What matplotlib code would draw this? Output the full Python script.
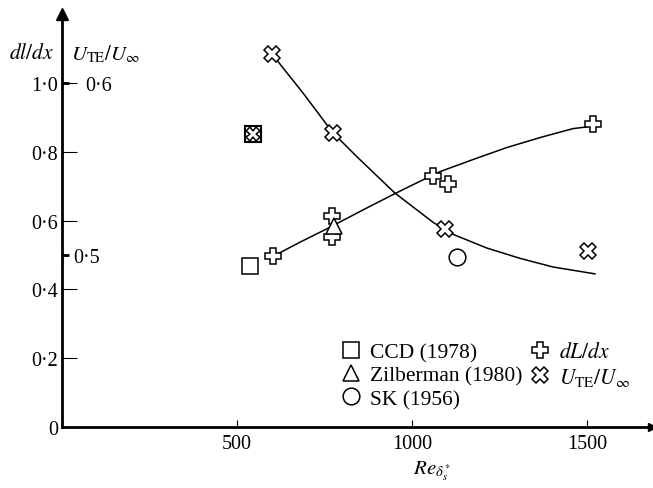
import numpy as np
import matplotlib
matplotlib.use('Agg')
import matplotlib.pyplot as plt
from matplotlib.ticker import FuncFormatter

plt.rcParams['font.family'] = ['Liberation Serif', 'DejaVu Serif']
plt.rcParams['mathtext.fontset'] = 'stix'

# dL/dx measurements (crosses of plus shape)
re_dl = [603, 771, 771, 1060, 1103, 1517]
dl_dx = [0.496, 0.612, 0.551, 0.728, 0.707, 0.881]

# U_TE/U_inf measurements (diagonal crosses)
re_ute = [600, 774, 1094, 1503]
u_te = [0.617, 0.571, 0.515, 0.502]

# other authors
re_ccd, dl_ccd = [537], [0.467]          # CCD (1978), dl/dx
re_ccd_u, u_ccd = [546], [0.570]         # CCD (1978), U_TE/U_inf
re_zil, dl_zil = [777], [0.583]          # Zilberman (1980)
re_sk, u_sk = [1129], [0.499]            # SK (1956)

# faired curves
re_dl_fit = [603, 680, 757, 870, 951, 1015, 1080, 1174, 1271, 1366, 1460, 1500]
dl_fit = [0.496, 0.537, 0.576, 0.636, 0.678, 0.710, 0.742, 0.777, 0.812,
          0.841, 0.867, 0.872]
re_u_fit = [603, 689, 774, 843, 951, 1060, 1117, 1214, 1309, 1403, 1523]
u_fit = [0.616, 0.594, 0.571, 0.557, 0.536, 0.519, 0.512, 0.504, 0.498, 0.493, 0.489]

x_ticks = [500, 1000, 1500]
dl_ticks = [0, 0.2, 0.4, 0.6, 0.8, 1.0]
u_ticks = [0.5, 0.6]

xmax, ymax = 1686, 1.2
# second scale: U = 0.5 + (dl - 0.5)/5
u_lim = (0.5 + (0 - 0.5) / 5, 0.5 + (ymax - 0.5) / 5)

fs = 14.5


def dot_fmt(v, pos):
    if abs(v) < 1e-9:
        return '0'
    return f'{v:.1f}'.replace('.', '\u00b7')


fig = plt.figure(figsize=(6.53, 4.89), dpi=100)
ax = fig.add_axes([0.095, 0.1247, 0.9035, 0.8446])
ax.set_xlim(0, xmax)
ax.set_ylim(0, ymax)

ax2 = ax.twinx()
ax2.set_ylim(*u_lim)

for s in ['top', 'right']:
    ax.spines[s].set_visible(False)
for s in ['top', 'right', 'left', 'bottom']:
    ax2.spines[s].set_visible(False)
ax.spines['left'].set_linewidth(2.0)
ax.spines['bottom'].set_linewidth(2.0)

# arrow heads on the axes
ax.plot(0, 1, '^', color='black', ms=8, transform=ax.transAxes, clip_on=False)
ax.plot(1, 0, '>', color='black', ms=6, transform=ax.transAxes, clip_on=False)

ax.set_xticks(x_ticks)
ax.set_xticklabels([str(t) for t in x_ticks])
ax.tick_params(axis='x', direction='in', length=5, width=0.8, labelsize=fs, pad=5)
ax.set_yticks(dl_ticks)
ax.yaxis.set_major_formatter(FuncFormatter(dot_fmt))
ax.tick_params(axis='y', direction='in', length=11, width=0.8, labelsize=fs, pad=3)

# U_TE/U_inf scale sits on the same vertical axis, labels to the right
ax2.spines['right'].set_position(('axes', 0))
ax2.set_yticks(u_ticks)
ax2.yaxis.set_major_formatter(FuncFormatter(dot_fmt))
ax2.tick_params(axis='y', direction='out', length=5, width=2, labelsize=fs, pad=3)
ax2.yaxis.get_major_ticks()[1].set_pad(12)

lw = 1.1
ax.plot(re_dl_fit, dl_fit, color='black', lw=1.1)
ax2.plot(re_u_fit, u_fit, color='black', lw=1.1)

h_plus, = ax.plot(re_dl, dl_dx, 'P', ms=12, mfc='white', mec='black', mew=lw, ls='none')
h_cross, = ax2.plot(re_ute, u_te, 'X', ms=12, mfc='white', mec='black', mew=lw, ls='none')
h_sq, = ax.plot(re_ccd, dl_ccd, 's', ms=11, mfc='white', mec='black', mew=lw, ls='none')
ax2.plot(re_ccd_u, u_ccd, 's', ms=11, mfc='white', mec='black', mew=1.5, ls='none')
ax2.plot(re_ccd_u, u_ccd, 'X', ms=10, mfc='white', mec='black', mew=lw, ls='none')
h_tri, = ax.plot(re_zil, dl_zil, '^', ms=12, mfc='white', mec='black', mew=lw, ls='none')
h_circ, = ax2.plot(re_sk, u_sk, 'o', ms=12, mfc='white', mec='black', mew=lw, ls='none')

ax2.legend([h_sq, h_tri, h_circ, h_plus, h_cross],
           ['CCD (1978)', 'Zilberman (1980)', 'SK (1956)',
            '$dL/dx$', r'$U_{\mathrm{TE}}/U_{\infty}$'],
           ncol=2, frameon=False, loc='upper left', bbox_to_anchor=(0.471, 0.205),
           fontsize=15.5, handletextpad=0.4, columnspacing=0.3, labelspacing=0.15,
           handlelength=1.0, borderaxespad=0, borderpad=0)

ax.text(-0.052, 0.905, '$dl/dx$', transform=ax.transAxes, fontsize=15.5,
        ha='center', va='center')
ax.text(0.073, 0.905, r'$U_{\mathrm{TE}}/U_{\infty}$', transform=ax.transAxes,
        fontsize=15, ha='center', va='center')
ax.text(0.627, -0.105, r'$Re_{\delta_s^*}$', transform=ax.transAxes, fontsize=15,
        ha='center', va='center')

fig.savefig('out.png', dpi=100)
